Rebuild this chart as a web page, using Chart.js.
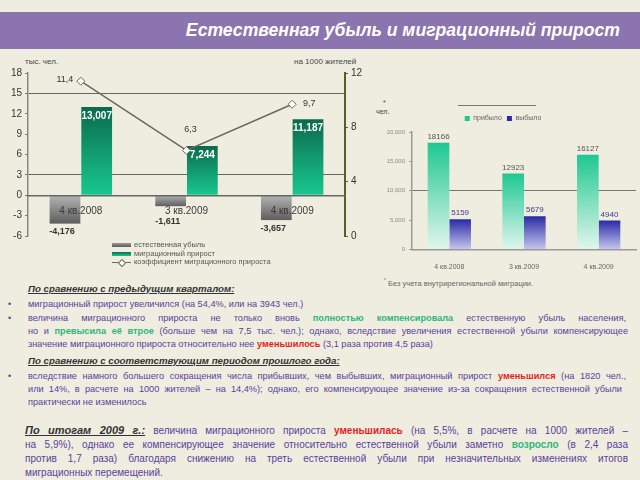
<!DOCTYPE html>
<html>
<head>
<meta charset="utf-8">
<script src="https://cdn.jsdelivr.net/npm/chart.js@4"></script>
<style>
  body { margin: 0; width: 640px; height: 480px; overflow: hidden; background: #efeddf; font-family: "Liberation Sans", Arial, sans-serif; position: relative; }
  .abs { position: absolute; }
  #banner { left: 0; top: 12px; width: 640px; height: 37px; background: #8c74ae; }
  #title { right: 20px; top: 20px; color: #fff; font-size: 17.6px; font-weight: bold; font-style: italic; white-space: nowrap; }
  .unit { font-size: 8px; color: #444; white-space: nowrap; }
  .leg { font-size: 7.5px; color: #555; white-space: nowrap; line-height: 8.5px; }
  .sw { display: inline-block; width: 19px; height: 4px; vertical-align: middle; margin-right: 3px; }
  .ln { position: absolute; color: #5a3f9e; font-size: 9.2px; line-height: 13px; height: 13px; text-align: justify; text-align-last: justify; }
  .ln.last { text-align-last: left; }
  .hd { color: #333; font-size: 9.7px; font-weight: bold; font-style: italic; text-decoration: underline; white-space: nowrap; }
  .bul { left: 8px; color: #5a3f9e; font-size: 9px; line-height: 13px; }
  .g { color: #2fb67a; font-weight: bold; }
  .r { color: #e41e1e; font-weight: bold; }
  .fin { left: 25px; width: 603px; font-size: 10px; }
  .fin .hd { font-size: 11px; }
</style>
</head>
<body>
<div id="banner" class="abs"></div>
<div id="title" class="abs">Естественная убыль и миграционный прирост</div>

<div class="abs unit" style="left:25px;top:57px;">тыс. чел.</div>
<div class="abs unit" style="left:294px;top:57px;">на 1000 жителей</div>
<canvas id="left" class="abs" style="left:0;top:55px;" width="365" height="190"></canvas>
<div id="leftLegend" class="abs leg" style="left:112px;top:241px;"></div>

<div class="abs unit" style="left:383px;top:99px;font-size:7px;">*</div>
<div class="abs unit" style="left:376px;top:108px;font-size:7px;">чел.</div>
<div class="abs" style="left:458px;top:105px;width:78px;height:1px;background:#777;"></div>
<canvas id="right" class="abs" style="left:370px;top:88px;" width="270" height="188"></canvas>
<div class="abs unit" style="left:384px;top:277px;font-size:7.5px;color:#666;"><sup style="font-size:5px">*</sup> Без учета внутрирегиональной миграции.</div>

<div class="abs hd" style="left:28px;top:283px;">По сравнению с предыдущим кварталом:</div>
<div class="abs bul" style="top:298px;">•</div>
<div class="ln last" style="left:28px;top:298px;width:598px;">миграционный прирост увеличился (на 54,4%, или на 3943 чел.)</div>
<div class="abs bul" style="top:312px;">•</div>
<div class="ln" style="left:28px;top:312px;width:598px;">величина миграционного прироста не только вновь <span class="g">полностью компенсировала</span> естественную убыль населения,</div>
<div class="ln" style="left:28px;top:325px;width:600px;">но и <span class="g">превысила её втрое</span> (больше чем на 7,5 тыс. чел.); однако, вследствие увеличения естественной убыли компенсирующее</div>
<div class="ln last" style="left:28px;top:338px;width:600px;">значение миграционного прироста относительно нее <span class="r">уменьшилось</span> (3,1 раза против 4,5 раза)</div>

<div class="abs hd" style="left:28px;top:355px;">По сравнению с соответствующим периодом прошлого года:</div>
<div class="abs bul" style="top:370px;">•</div>
<div class="ln" style="left:28px;top:370px;width:598px;">вследствие намного большего сокращения числа прибывших, чем выбывших, миграционный прирост <span class="r">уменьшился</span> (на 1820 чел.,</div>
<div class="ln" style="left:28px;top:383px;width:594px;">или 14%, в расчете на 1000 жителей – на 14,4%); однако, его компенсирующее значение из-за сокращения естественной убыли</div>
<div class="ln last" style="left:28px;top:396px;width:598px;">практически не изменилось</div>

<div class="ln fin" style="top:424px;"><span class="hd">По итогам 2009 г.:</span> величина миграционного прироста <span class="r">уменьшилась</span> (на 5,5%, в расчете на 1000 жителей –</div>
<div class="ln fin" style="top:438px;">на 5,9%), однако ее компенсирующее значение относительно естественной убыли заметно <span class="g">возросло</span> (в 2,4 раза</div>
<div class="ln fin" style="top:452px;">против 1,7 раза) благодаря снижению на треть естественной убыли при незначительных изменениях итогов</div>
<div class="ln fin last" style="top:466px;">миграционных перемещений.</div>

<script>
const quarters = ["4 кв.2008", "3 кв.2009", "4 кв.2009"];
const naturalLoss = [-4.176, -1.611, -3.657];
const migrationGain = [13.007, 7.244, 11.187];
const migrationRate = [11.4, 6.3, 9.7];

const arrived = [18166, 12923, 16127];
const departed = [5159, 5679, 4940];

const leftTicks = { min: -6, max: 18, step: 3 };
const rightTicks = { min: 0, max: 12, step: 4 };

const fmt = (v, d) => v.toFixed(d).replace(".", ",");

// gradient per bar, from value to zero
function barGradient(ctx, top, bottom) {
  const chart = ctx.chart;
  if (!chart.chartArea) return top;
  const y = chart.scales[ctx.dataset.yAxisID || "y"];
  const v = ctx.raw;
  const y0 = y.getPixelForValue(0);
  const y1 = y.getPixelForValue(v);
  const g = chart.ctx.createLinearGradient(0, Math.min(y0, y1), 0, Math.max(y0, y1));
  g.addColorStop(0, top);
  g.addColorStop(1, bottom);
  return g;
}

const labelsPlugin = {
  id: "valueLabels",
  afterDraw(chart) {
    const c = chart.ctx;
    chart.data.datasets.forEach((ds, i) => {
      const meta = chart.getDatasetMeta(i);
      const o = ds.labelOpts;
      if (!o) return;
      meta.data.forEach((el, j) => {
        const v = ds.data[j];
        c.save();
        c.font = o.font;
        c.fillStyle = o.color;
        c.textAlign = "center";
        c.textBaseline = "middle";
        const pos = o.pos(el, j, chart);
        c.fillText(o.text(v), pos.x, pos.y);
        c.restore();
      });
    });
  }
};

new Chart(document.getElementById("left"), {
  data: {
    labels: quarters,
    datasets: [
      {
        type: "bar",
        label: "естественная убыль",
        data: naturalLoss,
        yAxisID: "y",
        backgroundColor: (ctx) => barGradient(ctx, "#b4b4b4", "#5e5e5e"),
        categoryPercentage: 0.6,
        barPercentage: 0.97,
        order: 2,
        labelOpts: {
          font: "bold 9px 'Liberation Sans'",
          color: "#333",
          text: (v) => fmt(v, 3),
          // keep below the category label when the bar is short
          pos: (el, j, chart) => ({ x: el.x - 3, y: Math.max(el.y + 8, chart.scales.y.getPixelForValue(0) + 26) })
        }
      },
      {
        type: "bar",
        label: "миграционный прирост",
        data: migrationGain,
        yAxisID: "y",
        backgroundColor: (ctx) => barGradient(ctx, "#0c6a4c", "#18c88e"),
        categoryPercentage: 0.6,
        barPercentage: 0.97,
        order: 2,
        labelOpts: {
          font: "bold 10px 'Liberation Sans'",
          color: "#fff",
          text: (v) => fmt(v, 3),
          pos: (el) => ({ x: el.x, y: el.y + 9 })
        }
      },
      {
        type: "line",
        label: "коэффициент миграционного прироста",
        data: migrationRate,
        yAxisID: "y1",
        borderColor: "#6b6b58",
        borderWidth: 1.5,
        pointStyle: "rectRot",
        pointRadius: 4,
        pointBackgroundColor: "#fff",
        pointBorderColor: "#6b6b58",
        pointBorderWidth: 1,
        order: 1,
        labelOpts: {
          font: "9px 'Liberation Sans'",
          color: "#333",
          text: (v) => fmt(v, 1),
          pos: (el, j) => [{ x: el.x - 16, y: el.y - 2 }, { x: el.x + 4, y: el.y - 21 }, { x: el.x + 17, y: el.y - 1 }][j]
        }
      }
    ]
  },
  options: {
    responsive: false,
    animation: false,
    layout: { padding: { top: 18, bottom: 4, left: 0, right: 0 } },
    plugins: { legend: { display: false }, tooltip: { enabled: false } },
    scales: {
      x: {
        position: { y: 0 },
        grid: { display: false, drawTicks: true },
        border: { display: true, color: "#666", width: 1.5, z: 1 },
        ticks: { z: 1, color: "#3a3a3a", font: { size: 10, family: "Liberation Sans" }, padding: 2 }
      },
      y: {
        position: "left",
        min: leftTicks.min, max: leftTicks.max,
        ticks: { stepSize: leftTicks.step, color: "#333", font: { size: 10, family: "Liberation Sans" }, padding: 3 },
        grid: {
          drawTicks: true, tickLength: 3,
          color: (ctx) => (ctx.tick && (ctx.tick.value === 15 || ctx.tick.value === 3)) ? "#666" : "rgba(0,0,0,0)",
          tickColor: "#777"
        },
        border: { color: "#888", width: 1.5 },
        afterFit: (s) => { s.width = 28; }
      },
      y1: {
        position: "right",
        min: rightTicks.min, max: rightTicks.max,
        ticks: { stepSize: rightTicks.step, color: "#333", font: { size: 10, family: "Liberation Sans" }, padding: 3 },
        grid: { drawOnChartArea: false, tickLength: 3, tickColor: "#556027" },
        border: { color: "#556027", width: 2 },
        afterFit: (s) => { s.width = 20; }
      }
    }
  },
  plugins: [labelsPlugin]
});

// html legend for the left chart
const legendItems = [
  { name: "естественная убыль", sw: "background:linear-gradient(#9a9a9a,#5a5a5a);" },
  { name: "миграционный прирост", sw: "background:linear-gradient(#0c6a4c,#18c88e);" },
  { name: "коэффициент миграционного прироста", line: true }
];
document.getElementById("leftLegend").innerHTML = legendItems.map((it) => it.line
  ? `<div><span style="display:inline-block;width:19px;margin-right:3px;position:relative;vertical-align:middle;height:6px;"><span style="position:absolute;left:0;top:2.5px;width:19px;height:1.5px;background:#6b6b58"></span><span style="position:absolute;left:7px;top:0.5px;width:4px;height:4px;background:#fff;border:1px solid #6b6b58;transform:rotate(45deg)"></span></span>${it.name}</div>`
  : `<div><span class="sw" style="${it.sw}"></span>${it.name}</div>`).join("");

new Chart(document.getElementById("right"), {
  type: "bar",
  data: {
    labels: quarters,
    datasets: [
      {
        label: "прибыло",
        data: arrived,
        backgroundColor: (ctx) => barGradient(ctx, "#1ec890", "#e2f6ee"),
        categoryPercentage: 0.58,
        barPercentage: 1,
        labelOpts: {
          font: "8px 'Liberation Sans'",
          color: "#555",
          text: (v) => String(v),
          pos: (el) => ({ x: el.x, y: el.y - 6 })
        }
      },
      {
        label: "выбыло",
        data: departed,
        backgroundColor: (ctx) => barGradient(ctx, "#2a2aa6", "#c8c8ee"),
        categoryPercentage: 0.58,
        barPercentage: 1,
        labelOpts: {
          font: "8px 'Liberation Sans'",
          color: "#3a3a80",
          text: (v) => String(v),
          pos: (el) => ({ x: el.x, y: el.y - 6 })
        }
      }
    ]
  },
  options: {
    responsive: false,
    animation: false,
    layout: { padding: { top: 22, right: 4, left: 0, bottom: 0 } },
    plugins: {
      tooltip: { enabled: false },
      legend: {
        position: "top",
        labels: { boxWidth: 5, boxHeight: 5, padding: 5, color: "#666", font: { size: 7, family: "Liberation Sans" } }
      }
    },
    scales: {
      x: {
        grid: { display: false },
        border: { color: "#999", width: 1.5 },
        ticks: { color: "#666", font: { size: 7, family: "Liberation Sans" }, padding: 5 }
      },
      y: {
        min: 0, max: 20000,
        ticks: { stepSize: 5000, color: "#888", font: { size: 6, family: "Liberation Sans" }, padding: 4 },
        grid: {
          tickLength: 3, tickColor: "#999",
          color: (ctx) => (ctx.tick && ctx.tick.value === 10000) ? "#777" : "rgba(0,0,0,0)"
        },
        border: { color: "#999", width: 1.5 },
        afterFit: (s) => { s.width = 42; }
      }
    }
  },
  plugins: [labelsPlugin]
});
</script>
</body>
</html>
